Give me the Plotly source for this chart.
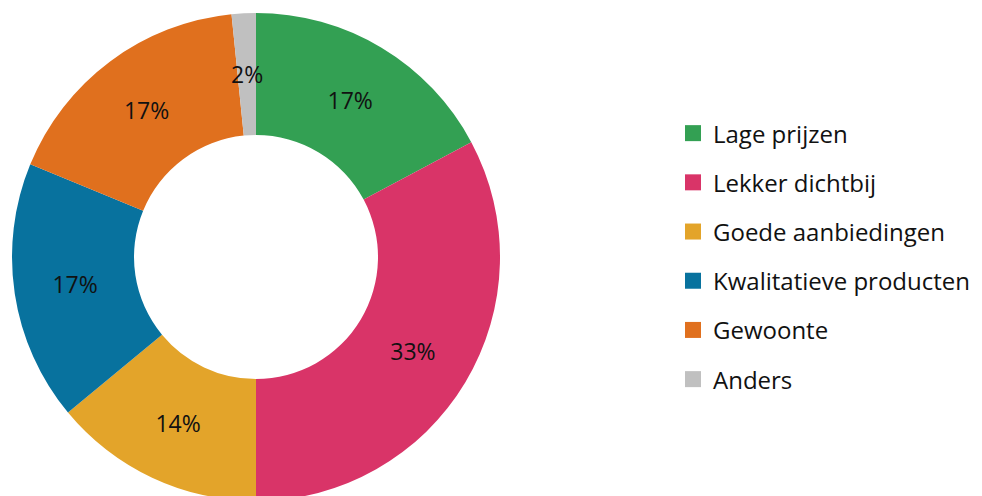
import math
import plotly.graph_objects as go

# share of respondents per reason
categories = ["Lage prijzen", "Lekker dichtbij", "Goede aanbiedingen",
              "Kwalitatieve producten", "Gewoonte", "Anders"]
shares = [17.2, 32.8, 14.0, 17.2, 17.2, 1.6]
colors = ["#33a053", "#d93468", "#e3a42a", "#08729e", "#e0701e", "#c0c0c0"]

FONT = "Open Sans"
W, H = 982, 496
TOP = 5
HOLE = 0.5

# pie domain in pixels (figure coords), radius 244
dom_x = [4, 492]
plot_h = H - TOP
dom_y = [plot_h - 488, plot_h]

# the tiny slice gets its label as an annotation so it is not shrunk
templates = ["%{percent:.0%}"] * len(categories)
templates[-1] = ""

fig = go.Figure()

fig.add_trace(go.Pie(
    labels=categories,
    values=shares,
    hole=HOLE,
    sort=False,
    direction="clockwise",
    rotation=0,
    marker=dict(colors=colors, line=dict(width=0)),
    texttemplate=templates,
    textposition="inside",
    insidetextorientation="horizontal",
    textfont=dict(family=FONT, size=23, color="#111111"),
    domain=dict(x=[dom_x[0] / W, dom_x[1] / W],
                y=[dom_y[0] / plot_h, dom_y[1] / plot_h]),
    showlegend=False,
))

# position of the small-slice label: middle of the slice, middle of the ring
total = sum(shares)
mid_frac = (total - shares[-1] / 2) / total
theta = 2 * math.pi * mid_frac
radius = (dom_x[1] - dom_x[0]) / 2
r_mid = radius * (1 + HOLE) / 2
cx = (dom_x[0] + dom_x[1]) / 2 / W
cy = (dom_y[0] + dom_y[1]) / 2 / plot_h
fig.add_annotation(
    x=cx + r_mid * math.sin(theta) / W,
    y=cy + r_mid * math.cos(theta) / plot_h,
    xref="paper", yref="paper",
    xanchor="center", yanchor="middle",
    text=f"{round(shares[-1] / total * 100)}%",
    showarrow=False,
    font=dict(family=FONT, size=23, color="#111111"),
)

# legend entries as square markers, one group each so they can be spaced out
for name, col in zip(categories, colors):
    fig.add_trace(go.Scatter(
        x=[None], y=[None], mode="markers", name=name,
        legendgroup=name,
        marker=dict(symbol="square", size=16, color=col),
    ))

fig.update_layout(
    width=W,
    height=H,
    margin=dict(l=0, r=0, t=TOP, b=0),
    paper_bgcolor="white",
    plot_bgcolor="white",
    font=dict(family=FONT, size=24, color="#111111"),
    xaxis=dict(visible=False),
    yaxis=dict(visible=False),
    legend=dict(
        x=665 / W, xanchor="left",
        y=0.504, yanchor="middle",
        tracegroupgap=15,
        font=dict(family=FONT, size=24, color="#111111"),
        itemsizing="trace",
    ),
)

fig.write_html("out.html")
